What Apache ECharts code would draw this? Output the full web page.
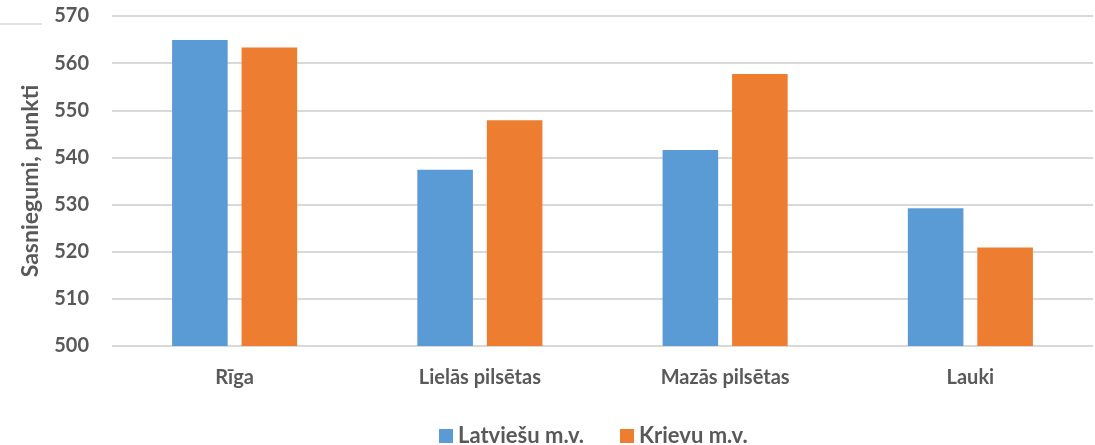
<!DOCTYPE html>
<html>
<head>
<meta charset="utf-8">
<script src="https://cdn.jsdelivr.net/npm/echarts@6/dist/echarts.min.js"></script>
<style>
  html, body { margin: 0; padding: 0; background: #fff; }
  #main { width: 1095px; height: 445px; }
</style>
</head>
<body>
<div id="main"></div>
<script>
// dati
const categories = ['Rīga', 'Lielās pilsētas', 'Mazās pilsētas', 'Lauki'];
const latviesu = [564.9, 537.4, 541.6, 529.2];
const krievu = [563.3, 547.9, 557.7, 520.9];
const seriesNames = ['Latviešu m.v.', 'Krievu m.v.'];

let myChart = echarts.init(document.getElementById('main'));

const textCol = '#595959';
const fontFam = 'Lato, "Open Sans", sans-serif';

let option = {
  animation: false,
  color: ['#5B9BD5', '#ED7D31'],
  textStyle: { fontFamily: fontFam },
  grid: { left: 112, right: 2, top: 16, bottom: 99 },
  legend: {
    data: seriesNames,
    bottom: -7,
    left: 434,
    itemWidth: 14,
    itemHeight: 14,
    itemGap: 36,
    icon: 'rect',
    textStyle: { color: textCol, fontSize: 22, fontWeight: 'bold', fontFamily: fontFam }
  },
  xAxis: {
    type: 'category',
    data: categories,
    axisLine: { show: false },
    axisTick: { show: false },
    axisLabel: { color: textCol, fontSize: 20, fontWeight: 'bold', margin: 22 }
  },
  yAxis: {
    type: 'value',
    min: 500,
    max: 570,
    interval: 10,
    name: 'Sasniegumi, punkti',
    nameLocation: 'middle',
    nameGap: 70,
    nameTextStyle: { color: textCol, fontSize: 23, fontWeight: 'bold' },
    axisLabel: { color: textCol, fontSize: 20, fontWeight: 'bold', margin: 23 },
    splitLine: { lineStyle: { color: '#d9d9d9', width: 2 } }
  },
  graphic: [{
    type: 'line',
    shape: { x1: 0, y1: 24, x2: 42, y2: 24 },
    style: { stroke: '#d9d9d9', lineWidth: 1.5 }
  }],
  series: [
    { name: seriesNames[0], type: 'bar', data: latviesu, barGap: '25%', barCategoryGap: '49%' },
    { name: seriesNames[1], type: 'bar', data: krievu, barGap: '25%', barCategoryGap: '49%' }
  ]
};

myChart.setOption(option);
</script>
</body>
</html>
